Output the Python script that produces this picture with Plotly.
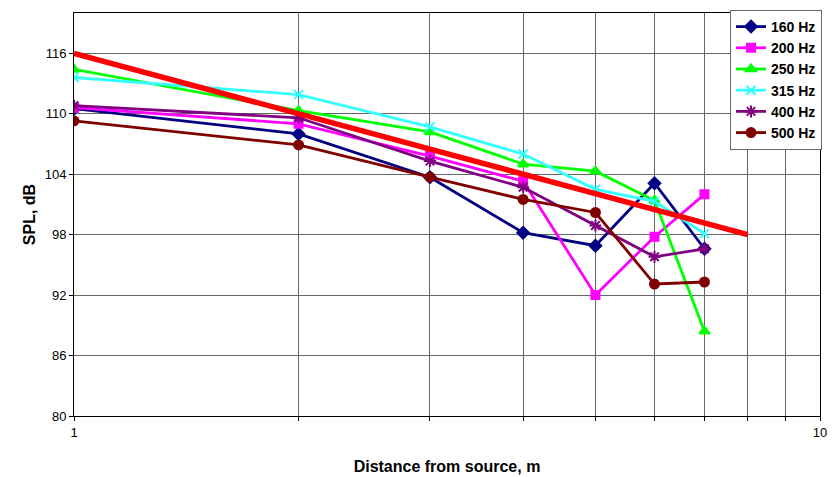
import plotly.graph_objects as go

distance = [1, 2, 3, 4, 5, 6, 7]
spl_160 = [110.5, 108.0, 103.7, 98.2, 96.9, 103.1, 96.6]
spl_200 = [110.6, 109.0, 105.8, 103.3, 92.0, 97.8, 102.0]
spl_250 = [114.4, 110.3, 108.2, 105.0, 104.3, 101.4, 88.4]
spl_315 = [113.6, 111.9, 108.7, 106.0, 102.5, 101.3, 98.1]
spl_400 = [110.8, 109.6, 105.3, 102.7, 98.9, 95.8, 96.6]
spl_500 = [109.3, 106.9, 103.7, 101.5, 100.2, 93.1, 93.3]
trend_x = [1, 8]
trend_y = [116.0, 98.0]

x_tickvals = [1, 2, 3, 4, 5, 6, 7, 8, 9, 10]
x_ticktext = ["1", "", "", "", "", "", "", "", "", "10"]
y_tickvals = [80, 86, 92, 98, 104, 110, 116]

series = [
    ("160 Hz", spl_160, "#000080", "diamond", 9),
    ("200 Hz", spl_200, "#FF00FF", "square", 8),
    ("250 Hz", spl_250, "#00FF00", "triangle-up", 9),
    ("315 Hz", spl_315, "#33FFFF", "x-thin-open", 9),
    ("400 Hz", spl_400, "#800080", "asterisk-open", 10),
    ("500 Hz", spl_500, "#800000", "circle", 9),
]

fig = go.Figure()
for name, vals, color, sym, size in series:
    fig.add_trace(go.Scatter(
        x=distance, y=vals, name=name, mode="lines+markers",
        line=dict(color=color, width=2.8),
        marker=dict(symbol=sym, size=size, color=color,
                    line=dict(color=color, width=2)),
    ))

fig.add_trace(go.Scatter(
    x=trend_x, y=trend_y, mode="lines", showlegend=False,
    line=dict(color="#FF0000", width=5.5),
))

fig.update_layout(
    width=832, height=477,
    margin=dict(l=74, r=10, t=12, b=61),
    paper_bgcolor="white", plot_bgcolor="white",
    font=dict(family="Liberation Sans, Arial, sans-serif", color="black", size=13),
    showlegend=True,
    legend=dict(
        x=1.0027, y=1.0075, xanchor="right", yanchor="top",
        bgcolor="white", bordercolor="#666666", borderwidth=1,
        font=dict(size=14, family="Liberation Sans, Arial, sans-serif", weight="bold"),
        tracegroupgap=0, itemwidth=30,
    ),
)

fig.update_xaxes(
    type="log", range=[0, 1], automargin=False,
    tickvals=x_tickvals, ticktext=x_ticktext,
    showgrid=True, gridcolor="#666666", gridwidth=1,
    showline=True, linecolor="black", linewidth=1,
    mirror=True, ticks="outside", ticklen=4, tickcolor="black",
    title=dict(text="<b>Distance from source, m</b>", font=dict(size=16), standoff=22),
    zeroline=False,
)
fig.update_yaxes(
    range=[80, 120], automargin=False,
    tickvals=y_tickvals,
    showgrid=True, gridcolor="#666666", gridwidth=1,
    showline=True, linecolor="black", linewidth=1,
    mirror=True, ticks="outside", ticklen=4, tickcolor="black",
    title=dict(text="<b>SPL, dB</b>", font=dict(size=16), standoff=5),
    zeroline=False,
)

fig.write_html(
    "out.html",
    config={"displayModeBar": False, "responsive": False},
    post_script=(
        "document.documentElement.style.overflow='hidden';"
        "document.body.style.margin='0';document.body.style.overflow='hidden';"
    ),
)
